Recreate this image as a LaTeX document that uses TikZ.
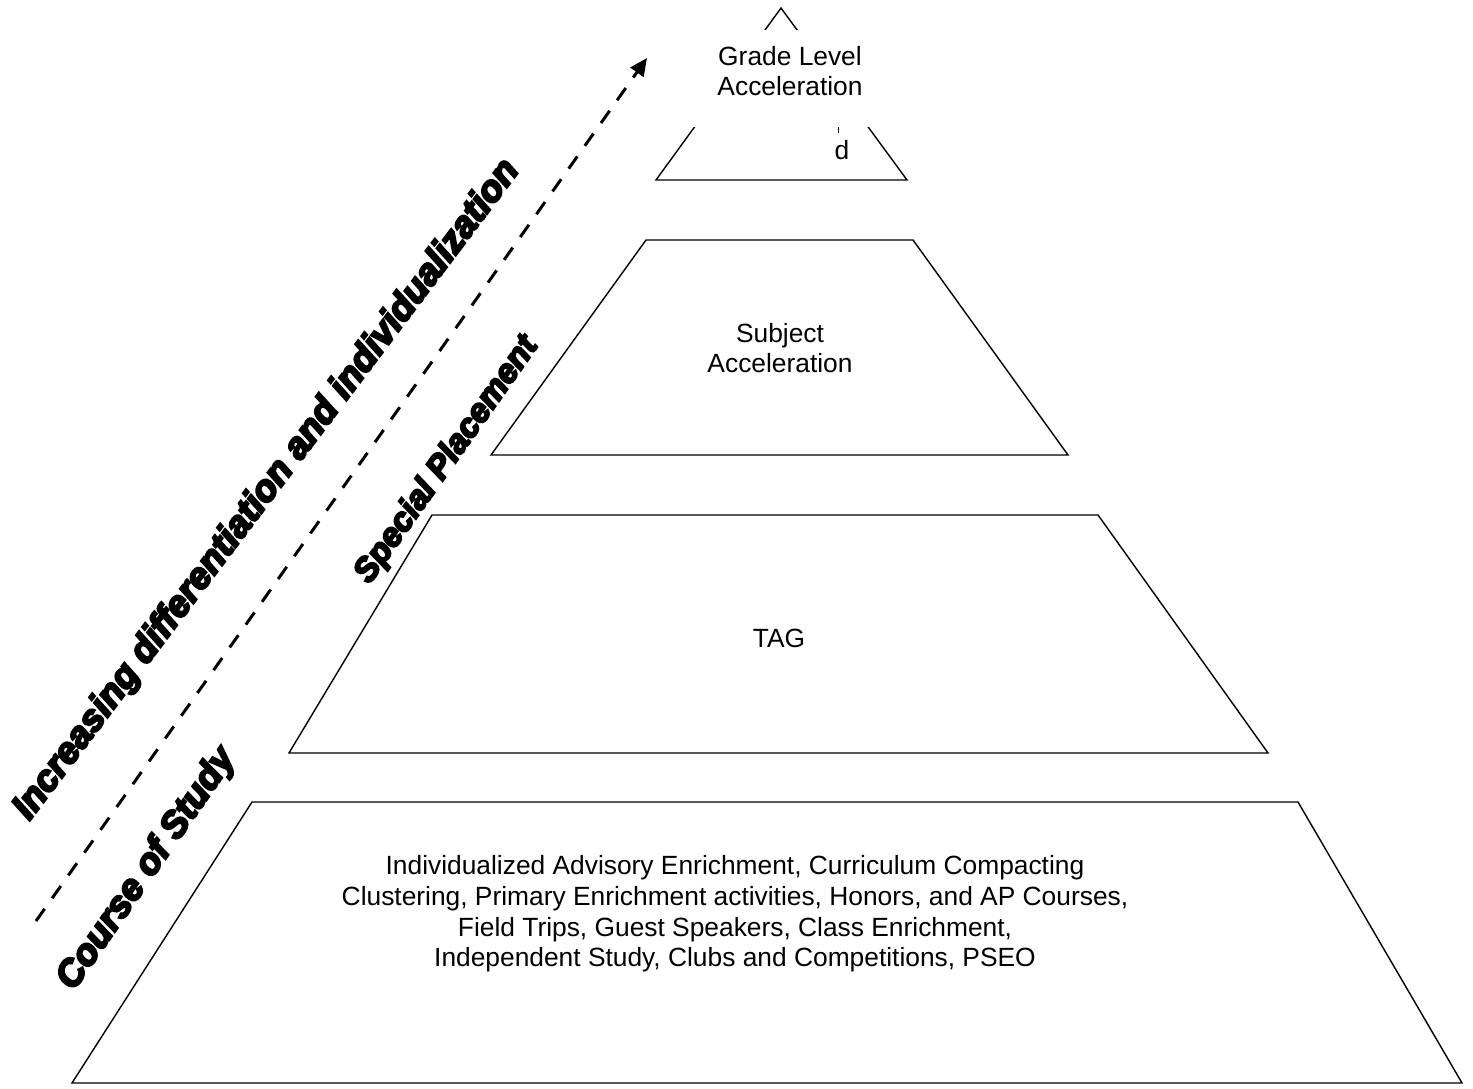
\documentclass[tikz,border=0pt]{standalone}
\usepackage{fontspec}
\setmainfont{Liberation Sans}
\newfontfamily\heavyfont{Liberation Sans}[FakeBold=6]
\usetikzlibrary{arrows.meta}
\tikzset{>={Triangle[length=10pt,width=9pt]}}
\tikzset{
  level/.style = {draw, line width = 0.8pt, line join = miter},
  body/.style = {align = center, font = \fontsize{15pt}{17.4pt}\selectfont},
  heavy/.style = {font = \heavyfont\bfseries\itshape\fontsize{21pt}{24pt}\selectfont}
}

\begin{document}
\begin{tikzpicture}[x = 0.02cm, y = -0.02cm]
      \useasboundingbox (0, 0) rectangle (1473, 1088);
      % pyramid levels
      \draw[level] (781, 8) -- (907, 180) -- (656, 180) -- cycle;
      \draw[level] (646, 240) -- (913, 240) -- (1068, 455) -- (491, 455) -- cycle;
      \draw[level] (432, 515) -- (1098, 515) -- (1268, 753) -- (289, 753) -- cycle;
      \draw[level] (252, 802) -- (1298, 802) -- (1462, 1083) -- (72, 1083) -- cycle;
      % level texts
      \node[fill = white, minimum width = 3.8cm, minimum height = 1.94cm] (gradebox) at (781, 78.5) {};
      \node[body] (grade) at (790, 71) {Grade Level \\ Acceleration};
      \node[body, inner sep = 0pt] (hidden) at (842, 150) {d};
      \draw[line width = 0.6pt] (838.5, 127) -- (838.5, 133);
      \node[body] (subject) at (780, 348) {Subject \\ Acceleration};
      \node[body] (tag) at (779, 638.5) {TAG};
      \node[body] (options) at (735, 914) {Individualized Advisory Enrichment, Curriculum Compacting \\
        Clustering, Primary Enrichment activities, Honors, and AP Courses, \\
        Field Trips, Guest Speakers, Class Enrichment, \\
        Independent Study, Clubs and Competitions, PSEO};
      % side labels
      \coordinate (start) at (36, 921);
      \coordinate (tip) at (647, 58);
      \draw[->, dashed, line width = 1.7pt, dash pattern = on 8.5pt off 7.4pt] (start) -- (tip);
      \node[heavy, rotate = 53] (increasing) at (267, 490) {Increasing differentiation and individualization};
      \node[heavy, rotate = 54.8, font = \heavyfont\bfseries\itshape\fontsize{19pt}{22pt}\selectfont] (special) at (447, 460) {Special Placement};
      \node[heavy, rotate = 55.2] (course) at (147, 869) {Course of Study};
    \end{tikzpicture}
\end{document}
